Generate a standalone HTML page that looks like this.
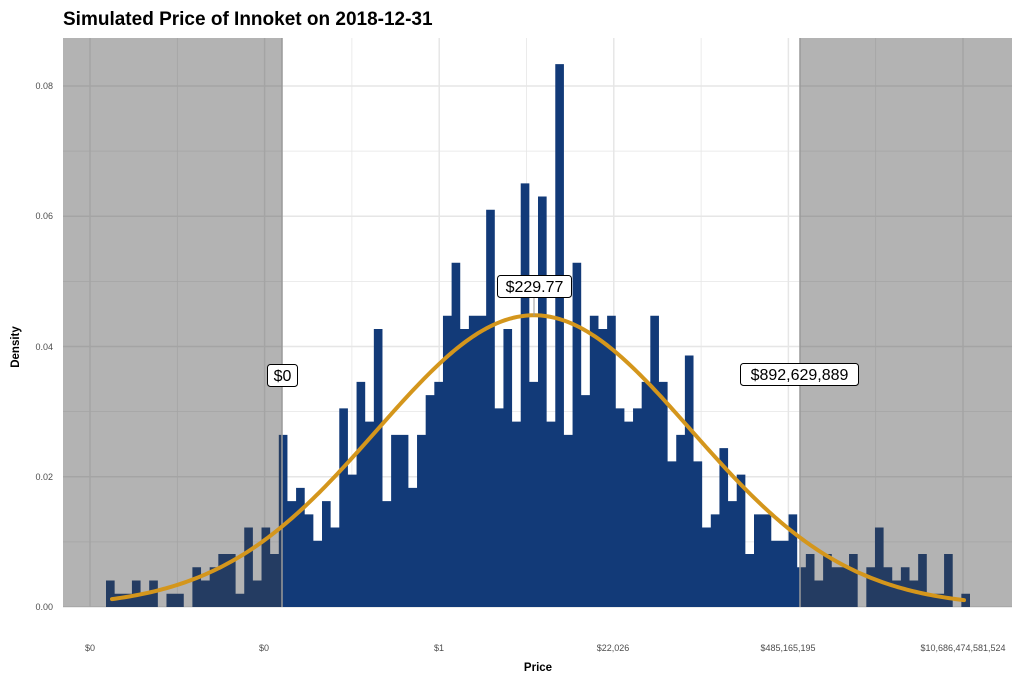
<!DOCTYPE html>
<html><head><meta charset="utf-8"><style>
html,body{margin:0;padding:0;background:#fff;}
svg{display:block;font-family:"Liberation Sans",Arial,sans-serif;}
</style></head><body>
<svg id="s" width="1024" height="683" viewBox="0 0 1024 683" xmlns="http://www.w3.org/2000/svg">
<text x="63" y="25" font-size="19" font-weight="bold" fill="#000">Simulated Price of Innoket on 2018-12-31</text>
<g id="grid"></g>
<g id="bars"></g>
<rect x="63" y="38" width="219" height="569" fill="rgb(65,65,65)" fill-opacity="0.4"/>
<rect x="800" y="38" width="212" height="569" fill="rgb(65,65,65)" fill-opacity="0.4"/>
<line x1="282" y1="38" x2="282" y2="607" stroke="#999" stroke-width="1.5"/>
<line x1="800" y1="38" x2="800" y2="607" stroke="#999" stroke-width="1.5"/>
<path id="curve" fill="none" stroke="#d4961c" stroke-width="4" stroke-linecap="round"/>
<line x1="282" y1="386" x2="282" y2="400" stroke="#999" stroke-width="1"/>
<line x1="534" y1="298" x2="534" y2="316" stroke="#999" stroke-width="1"/>
<rect x="267.5" y="364.5" width="30" height="22" rx="3" fill="#fff" stroke="#000" stroke-width="1"/>
<text x="282.5" y="381" font-size="16" text-anchor="middle">$0</text>
<rect x="497.5" y="275.5" width="74" height="22" rx="3" fill="#fff" stroke="#000" stroke-width="1"/>
<text x="534.5" y="292" font-size="16" text-anchor="middle">$229.77</text>
<rect x="740.5" y="363.5" width="118" height="22" rx="3" fill="#fff" stroke="#000" stroke-width="1"/>
<text x="799.5" y="380" font-size="16" text-anchor="middle">$892,629,889</text>
<g font-size="9" fill="#4d4d4d" text-anchor="end">
<text x="53" y="610">0.00</text>
<text x="53" y="480">0.02</text>
<text x="53" y="350">0.04</text>
<text x="53" y="219">0.06</text>
<text x="53" y="89">0.08</text>
</g>
<g font-size="9" fill="#4d4d4d" text-anchor="middle">
<text x="90" y="651">$0</text>
<text x="264" y="651">$0</text>
<text x="439" y="651">$1</text>
<text x="613" y="651">$22,026</text>
<text x="788" y="651">$485,165,195</text>
<text x="963" y="651">$10,686,474,581,524</text>
</g>
<text x="538" y="671" font-size="11.5" font-weight="bold" text-anchor="middle">Price</text>
<text transform="translate(19,347) rotate(-90)" font-size="11.5" font-weight="bold" text-anchor="middle">Density</text>
</svg>
<script>
var NS="http://www.w3.org/2000/svg";
function el(p,t,a){var e=document.createElementNS(NS,t);for(var k in a)e.setAttribute(k,a[k]);p.appendChild(e);return e;}
var g=document.getElementById('grid');
for(var i=0;i<9;i++){var y=607-i*65.125;el(g,'line',{x1:63,x2:1012,y1:y,y2:y,stroke:'#e6e6e6','stroke-width':i%2?0.8:1.5});}
for(var i=0;i<11;i++){var x=90+i*87.3;el(g,'line',{x1:x,x2:x,y1:38,y2:607,stroke:'#e6e6e6','stroke-width':i%2?0.8:1.5});}
var h=[2,1,1,2,1,2,0,1,1,0,3,2,3,4,4,1,6,2,6,4,
13,8,9,7,5,8,6,15,10,17,14,21,8,13,13,9,13,16,17,22,
26,21,22,22,30,15,21,14,32,17,31,14,41,13,26,16,22,21,22,15,
14,15,17,22,17,11,13,19,11,6,7,12,8,10,4,7,7,5,5,7,
3,4,2,4,3,3,4,0,3,6,3,2,3,2,4,1,1,4,0,1];
var d='M106,607';
for(var k=0;k<100;k++){var x0=106+8.64*k,x1=x0+8.64,y=607-h[k]*13.24;d+=' L'+x0.toFixed(2)+','+y.toFixed(2)+' L'+x1.toFixed(2)+','+y.toFixed(2);}
d+=' L970,607 Z';
el(document.getElementById('bars'),'path',{d:d,fill:'#123a78'});
var c='';
for(var x=112;x<=965;x+=3){var dd=x-534;var y=607-0.0448*6512*Math.exp(-dd*dd/(2*157*157));c+=(c?' L':'M')+x+','+y.toFixed(2);}
document.getElementById('curve').setAttribute('d',c);
</script>
</body></html>
